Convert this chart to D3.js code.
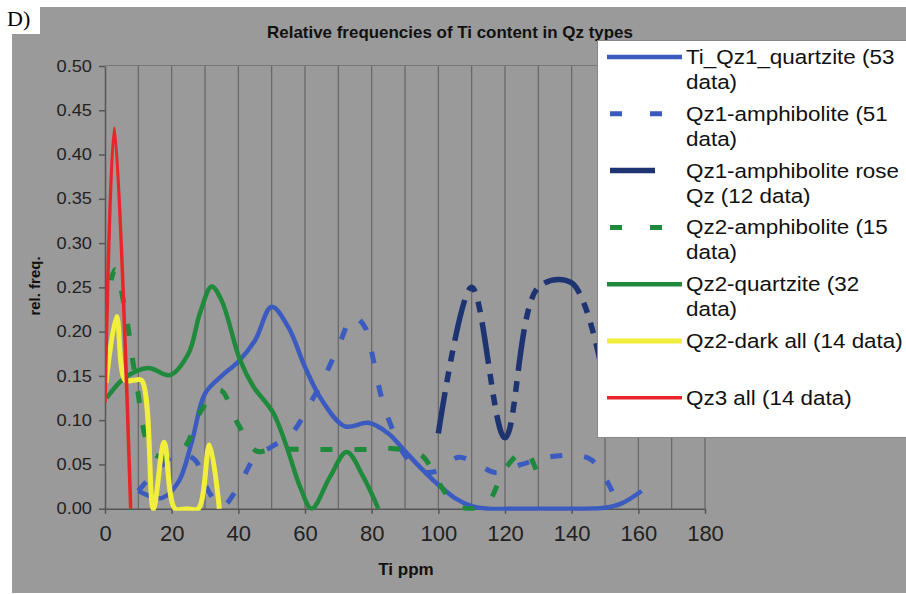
<!DOCTYPE html>
<html>
<head>
<meta charset="utf-8">
<script src="https://cdn.jsdelivr.net/npm/d3@7"></script>
<style>
  body { margin: 0; background: #fff; }
  svg { display: block; font-family: "Liberation Sans", Arial, sans-serif; }
</style>
</head>
<body>
<svg></svg>
<script>
// ---- data ----
const xTicks = [0, 20, 40, 60, 80, 100, 120, 140, 160, 180];
const yTicks = [0, 0.05, 0.10, 0.15, 0.20, 0.25, 0.30, 0.35, 0.40, 0.45, 0.50];
const gridX = d3.range(10, 181, 10);

const seriesNames = [
  "Ti_Qz1_quartzite (53 data)",
  "Qz1-amphibolite (51 data)",
  "Qz1-amphibolite rose Qz (12 data)",
  "Qz2-amphibolite (15 data)",
  "Qz2-quartzite (32 data)",
  "Qz2-dark all (14 data)",
  "Qz3 all (14 data)"
];
const legendLines = [
  ["Ti_Qz1_quartzite (53", "data)"],
  ["Qz1-amphibolite (51", "data)"],
  ["Qz1-amphibolite rose", "Qz (12 data)"],
  ["Qz2-amphibolite (15", "data)"],
  ["Qz2-quartzite (32", "data)"],
  ["Qz2-dark all (14 data)"],
  ["Qz3 all (14 data)"]
];

const qz1QuartziteX = [10, 17, 22, 26, 30, 35, 40, 45, 50, 55, 60, 65, 72, 79, 85, 90, 95, 100, 105, 110, 115, 125, 135, 145, 150, 155, 161];
const qz1QuartziteY = [0.02, 0.012, 0.03, 0.075, 0.13, 0.15, 0.166, 0.19, 0.228, 0.205, 0.16, 0.123, 0.093, 0.097, 0.085, 0.065, 0.045, 0.027, 0.012, 0.003, 0, 0, 0, 0, 0.001, 0.006, 0.02];

const qz1AmphX = [10, 16, 22, 27, 31, 35, 40, 45, 50, 56, 62, 66, 70, 74.5, 78, 80.5, 83, 86, 90, 95, 100, 106, 111, 117, 125, 131, 137, 142, 146, 150, 154];
const qz1AmphY = [0.02, 0.045, 0.062, 0.055, 0.02, 0.002, 0.025, 0.058, 0.07, 0.085, 0.122, 0.15, 0.183, 0.217, 0.205, 0.168, 0.125, 0.092, 0.06, 0.042, 0.043, 0.058, 0.052, 0.041, 0.05, 0.057, 0.06, 0.06, 0.055, 0.035, 0.005];

const roseQzX = [100, 110, 120, 130, 140, 150];
const roseQzY = [0.085, 0.25, 0.08, 0.25, 0.255, 0.14];

const qz2AmphX = [0, 3, 6, 9.5, 14, 19, 24, 29, 34.5, 40, 45.5, 50, 60, 70, 80, 86, 95, 100, 105, 110, 115, 120, 126, 131];
const qz2AmphY = [0.22, 0.27, 0.225, 0.14, 0.064, 0.058, 0.07, 0.112, 0.134, 0.095, 0.065, 0.067, 0.067, 0.067, 0.067, 0.068, 0.06, 0.03, 0.005, 0, 0.008, 0.045, 0.065, 0.025];

const qz2QuartziteX = [0.5, 6, 13, 19.5, 25, 28.5, 32, 35, 40.5, 44.5, 50.5, 54.5, 58.5, 62, 67.5, 72.5, 77.5, 82];
const qz2QuartziteY = [0.125, 0.148, 0.159, 0.151, 0.175, 0.221, 0.251, 0.235, 0.168, 0.138, 0.108, 0.07, 0.025, 0, 0.036, 0.064, 0.036, 0];

const qz2DarkX = [0.3, 3.5, 6, 8.5, 11, 14.5, 17.75, 21, 24.5, 28, 31.3, 34.3];
const qz2DarkY = [0.142, 0.217, 0.145, 0.145, 0.145, 0, 0.075, 0, 0, 0, 0.072, 0];

const qz3X = [0, 2.8, 7.7];
const qz3Y = [0.12, 0.43, 0];

// ---- styles ----
const colors  = ["#3b5bc0", "#3b5bc0", "#1e3372", "#1f8a3c", "#1f8a3c", "#f2ee3c", "#e8262a"];
const widths  = [4.5, 5, 5.5, 5, 4.5, 5, 3.5];
const dashes  = [null, "12,22", "42,10,11,10,11,10", "12,22", null, null, null];

const width = 906, height = 594,
      plotL = 105, plotR = 705, plotT = 66, plotB = 508.7,
      bg = "#9a9a9a", gridColor = "#666";

const svg = d3.select("svg")
  .attr("width", width)
  .attr("height", height);

// chart area
svg.append("rect")
  .attr("x", 12).attr("y", 7)
  .attr("width", width - 12).attr("height", 586)
  .attr("fill", bg);

// "D)" label box
svg.append("rect")
  .attr("x", 0).attr("y", 0).attr("width", 40).attr("height", 34)
  .attr("fill", "#fff");
svg.append("text")
  .attr("x", 7).attr("y", 26)
  .style("font-family", "'Liberation Serif', 'Times New Roman', serif")
  .style("font-size", "22px")
  .text("D)");

// stretch helper - the picture's text is a little wider than the font
function stretch(sel, k) {
  sel.each(function() {
    const t = d3.select(this);
    t.attr("x", (+t.attr("x") || 0) / k)
     .attr("transform", (t.attr("transform") || "") + " scale(" + k + ",1)");
  });
}

const x = d3.scaleLinear().domain([0, 180]).range([plotL, plotR]);
const y = d3.scaleLinear().domain([0, 0.5]).range([plotB, plotT]);

// gridlines
svg.append("g")
  .selectAll("line")
  .data(gridX)
  .enter().append("line")
  .attr("x1", d => x(d)).attr("x2", d => x(d))
  .attr("y1", plotT).attr("y2", plotB)
  .attr("stroke", gridColor)
  .attr("stroke-width", 1.2);

svg.append("line")
  .attr("x1", plotL).attr("x2", plotR)
  .attr("y1", plotT - 0.5).attr("y2", plotT - 0.5)
  .attr("stroke", "#777")
  .attr("stroke-width", 1);

// title
const title = svg.append("text")
  .attr("x", 450).attr("y", 38)
  .attr("text-anchor", "middle")
  .style("font-size", "16px")
  .style("font-weight", "bold")
  .attr("fill", "#111")
  .text("Relative frequencies of Ti content in Qz types");
stretch(title, 1.06);

// axes
const yAxis = svg.append("g")
  .attr("transform", "translate(" + plotL + ",0)")
  .call(d3.axisLeft(y).tickValues(yTicks).tickFormat(d3.format(".2f"))
    .tickSize(6).tickSizeOuter(0).tickPadding(7));
yAxis.selectAll("text")
  .style("font-size", "16px")
  .attr("fill", "#222");
stretch(yAxis.selectAll("text"), 1.14);

const xAxis = svg.append("g")
  .attr("transform", "translate(0," + plotB + ")")
  .call(d3.axisBottom(x).tickValues(xTicks).tickFormat(d3.format("d"))
    .tickSize(5).tickSizeOuter(0).tickPadding(12));
xAxis.selectAll("text")
  .style("font-size", "22px")
  .attr("fill", "#222");

svg.selectAll(".domain, .tick line")
  .attr("stroke", "#555")
  .attr("stroke-width", 1.5);

// axis titles
svg.append("text")
  .attr("transform", "translate(40,286) rotate(-90)")
  .attr("text-anchor", "middle")
  .style("font-size", "15px")
  .style("font-weight", "bold")
  .attr("fill", "#111")
  .text("rel. freq.");

svg.append("text")
  .attr("x", 406).attr("y", 575)
  .attr("text-anchor", "middle")
  .style("font-size", "17px")
  .style("font-weight", "bold")
  .attr("fill", "#111")
  .text("Ti ppm");

// series
const seriesX = [qz1QuartziteX, qz1AmphX, roseQzX, qz2AmphX, qz2QuartziteX, qz2DarkX, qz3X];
const seriesY = [qz1QuartziteY, qz1AmphY, roseQzY, qz2AmphY, qz2QuartziteY, qz2DarkY, qz3Y];
const series = seriesNames.map((name, i) => ({
  name: name,
  points: seriesX[i].map((v, j) => [v, seriesY[i][j]]),
  color: colors[i], width: widths[i], dash: dashes[i]
}));

svg.append("defs").append("clipPath")
  .attr("id", "plot")
  .append("rect")
  .attr("x", plotL).attr("y", plotT)
  .attr("width", plotR - plotL).attr("height", plotB - plotT + 2);

const line = d3.line()
  .x(d => x(d[0]))
  .y(d => y(d[1]))
  .curve(d3.curveCatmullRom.alpha(0.5));

svg.append("g")
  .attr("clip-path", "url(#plot)")
  .selectAll("path")
  .data(series)
  .enter().append("path")
  .attr("d", d => line(d.points))
  .attr("fill", "none")
  .attr("stroke", d => d.color)
  .attr("stroke-width", d => d.width)
  .attr("stroke-dasharray", d => d.dash)
  .attr("stroke-linejoin", "round");

// legend
const legend = svg.append("g");
legend.append("rect")
  .attr("x", 597.5).attr("y", 40.5)
  .attr("width", 320).attr("height", 397)
  .attr("fill", "#fff")
  .attr("stroke", "#888");

const rows = legend.selectAll("g.row")
  .data(series)
  .enter().append("g")
  .attr("class", "row")
  .attr("transform", (d, i) => "translate(0," + (57 + i * 56.8) + ")");

rows.append("line")
  .attr("x1", d => d.dash ? 610 : 607)
  .attr("x2", (d, i) => i === 2 ? 655 : 682)
  .attr("stroke", d => d.color)
  .attr("stroke-width", d => d.width)
  .attr("stroke-dasharray", (d, i) => i === 2 ? null : (d.dash ? "12,28" : null));

rows.each(function(d, i) {
  const t = d3.select(this).append("text")
    .attr("y", 7)
    .style("font-size", "19.5px")
    .attr("fill", "#111")
    .attr("transform", "scale(1.15,1)");
  legendLines[i].forEach((s, j) => {
    t.append("tspan").attr("x", 686 / 1.15).attr("dy", j ? 25 : 0).text(s);
  });
});
</script>
</body>
</html>
